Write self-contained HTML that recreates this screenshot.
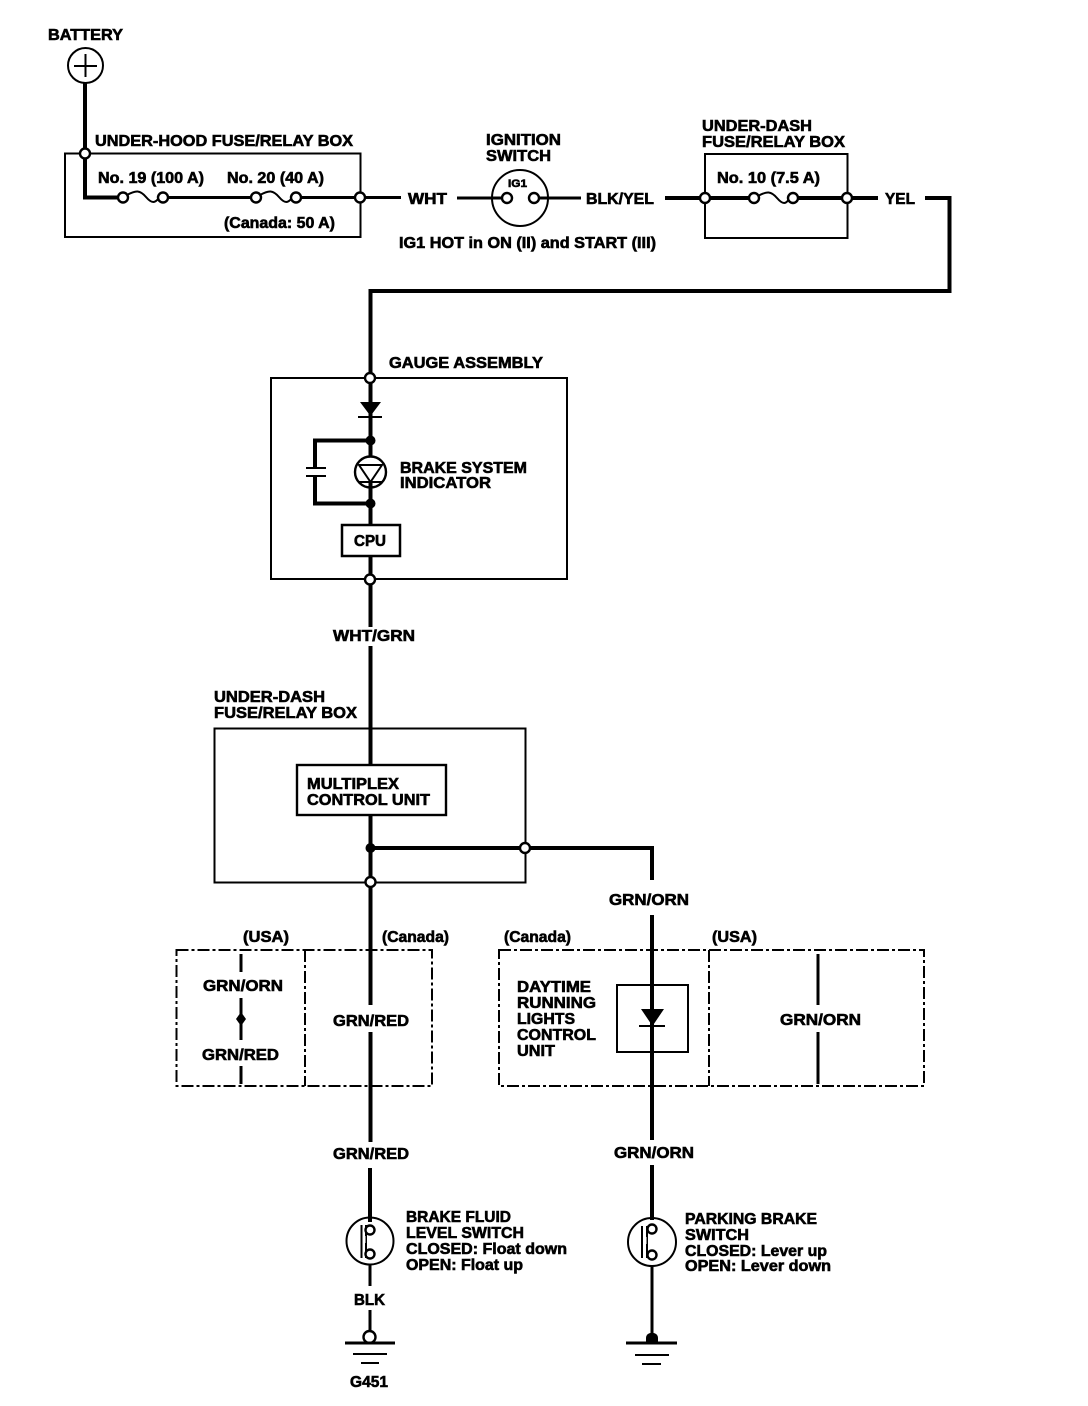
<!DOCTYPE html>
<html><head><meta charset="utf-8"><style>
html,body{margin:0;padding:0;background:#fff}
svg{display:block}
text{font-family:"Liberation Sans",sans-serif;font-weight:bold;font-size:15.5px;fill:#000;stroke:#000;stroke-width:.6px}
.b{fill:none;stroke:#000;stroke-width:2}
.w{fill:none;stroke:#000;stroke-width:4}
.t{fill:none;stroke:#000;stroke-width:3}
.d{fill:none;stroke:#000;stroke-width:2;stroke-dasharray:12 3 3 3}
.n{fill:#fff;stroke:#000;stroke-width:2.400}
.f{fill:#000;stroke:none}
</style></head><body>
<svg width="1088" height="1406" viewBox="0 0 1088 1406" xmlns="http://www.w3.org/2000/svg">
<!-- boxes -->
<rect class="b" x="65" y="153.500" width="295.500" height="83.500"/>
<rect class="b" x="705" y="154" width="142.500" height="84"/>
<rect class="b" x="271" y="378" width="296" height="201"/>
<rect class="b" x="214.500" y="728.500" width="311" height="154"/>
<rect class="d" x="176.500" y="950" width="255.500" height="136"/>
<line class="d" x1="305" y1="950" x2="305" y2="1086"/>
<rect class="d" x="499" y="950" width="425" height="136"/>
<line class="d" x1="709" y1="950" x2="709" y2="1086"/>

<!-- battery -->
<circle class="b" cx="85.500" cy="65.500" r="17.500"/>
<path class="b" d="M74 66H97M85.500 54V77"/>
<path class="w" d="M85 83V197.500H123"/>

<!-- top wire -->
<path class="t" d="M163 197.500H256M296 197.500H401"/>
<path class="t" d="M457 198H505"/>
<path class="t" d="M534 198H581"/>
<path class="w" d="M665 198H754M793 198H878"/>
<path class="w" d="M925 198H949.500V291H370.500V378"/>

<!-- fuses -->
<path class="b" d="M127 195C136 190 140 190 146 197S155 203 159 198"/>
<path class="b" d="M260 195C269 190 273 190 279 197S288 203 292 198"/>
<path class="b" d="M758 196C767 191 771 191 777 198S786 204 789 199"/>
<circle class="n" cx="123" cy="197.500" r="5"/><circle class="n" cx="163" cy="197.500" r="5"/>
<circle class="n" cx="256" cy="197.500" r="5"/><circle class="n" cx="296" cy="197.500" r="5"/>
<circle class="n" cx="754" cy="198" r="5"/><circle class="n" cx="793" cy="198" r="5"/>
<circle class="n" cx="85" cy="153.500" r="5"/><circle class="n" cx="360" cy="197.500" r="5"/>
<circle class="n" cx="705" cy="198" r="5"/><circle class="n" cx="847" cy="198" r="5"/>

<!-- ignition -->
<circle class="b" cx="520" cy="198" r="28"/>
<circle class="n" cx="507" cy="198" r="5"/><circle class="n" cx="534" cy="198" r="5"/>

<!-- gauge -->
<path class="w" d="M370.500 378V525M370.500 556V627M370.500 646V765M370.500 815V1005M370.500 1032V1142M370 1168V1222"/>
<path class="f" d="M360 402H381L370.500 416Z"/>
<line class="b" x1="358" y1="417" x2="382" y2="417"/>
<path class="w" d="M370 440.500H315V468M315 476V503.500H370"/>
<path class="b" d="M306 468H326M306 476H326"/>
<circle class="f" cx="370.500" cy="440.500" r="5"/><circle class="f" cx="370.500" cy="503.500" r="5"/>
<circle class="n" cx="370.500" cy="472" r="15.500"/>
<path class="b" d="M359 465H382L370.500 482ZM358 482H383"/>
<line class="w" x1="370.500" y1="482" x2="370.500" y2="500"/>
<rect class="n" style="stroke-width:2.500" x="342" y="525" width="58" height="31"/>
<circle class="n" cx="370" cy="378" r="5"/><circle class="n" cx="370" cy="579.500" r="5"/>

<!-- multiplex -->
<rect class="n" x="297" y="765" width="149" height="50"/>
<path class="w" d="M370 848H652V880M652 915V1140M652 1165V1220"/>
<circle class="f" cx="370.500" cy="848" r="5"/>
<circle class="n" cx="525" cy="848" r="5"/><circle class="n" cx="370.500" cy="882" r="5"/>

<!-- left dashed contents -->
<path class="t" d="M241 954V972M241 998V1040M241 1066V1084"/>
<path class="f" d="M241 1012L246 1019L241 1026L236 1019Z"/>

<!-- right dashed contents -->
<rect class="b" x="617" y="985" width="71" height="67"/>
<path class="f" d="M641 1009H664L652.500 1026Z"/>
<path class="b" d="M639 1026H665"/>
<path class="t" d="M818 954V1005M818 1032V1084"/>

<!-- switch 1 -->
<circle class="b" cx="370" cy="1241" r="23.500"/>
<path class="b" d="M361.500 1225V1258M366 1225V1258"/>
<line class="w" style="stroke:#fff;stroke-width:3" x1="364" y1="1236" x2="364" y2="1243"/>
<circle class="n" cx="370" cy="1230" r="4.500"/><circle class="n" cx="370" cy="1254" r="4.500"/>
<path class="t" d="M370 1264V1286M370 1310V1332"/>
<circle class="n" cx="369.500" cy="1337" r="6"/>
<path class="t" d="M345 1343H395"/>
<path class="b" d="M353 1354H387M361 1363H379"/>

<!-- switch 2 -->
<circle class="b" cx="652" cy="1242" r="24"/>
<path class="b" d="M642 1226V1258M647 1226V1258"/>
<line class="w" style="stroke:#fff;stroke-width:3" x1="645" y1="1237" x2="645" y2="1244"/>
<circle class="n" cx="652" cy="1229" r="4.500"/><circle class="n" cx="652" cy="1255" r="4.500"/>
<path class="t" d="M652 1266V1335"/>
<path class="f" d="M646 1343V1338C646 1331 658 1331 658 1338V1343Z"/>
<path class="t" d="M626 1343H677"/>
<path class="b" d="M635 1355H669M642 1364H661"/>

<!-- labels -->
<text x="48" y="40" textLength="75" lengthAdjust="spacingAndGlyphs">BATTERY</text>
<text x="95" y="146" textLength="258" lengthAdjust="spacingAndGlyphs">UNDER-HOOD FUSE/RELAY BOX</text>
<text x="98" y="183" textLength="106" lengthAdjust="spacingAndGlyphs">No. 19 (100 A)</text>
<text x="227" y="183" textLength="97" lengthAdjust="spacingAndGlyphs">No. 20 (40 A)</text>
<text x="224" y="228" textLength="111" lengthAdjust="spacingAndGlyphs">(Canada: 50 A)</text>
<text x="408" y="204" textLength="39" lengthAdjust="spacingAndGlyphs">WHT</text>
<text x="486" y="145" textLength="75" lengthAdjust="spacingAndGlyphs">IGNITION</text>
<text x="486" y="161" textLength="65" lengthAdjust="spacingAndGlyphs">SWITCH</text>
<text x="508" y="187" textLength="19" lengthAdjust="spacingAndGlyphs" style="font-size:11px">IG1</text>
<text x="586" y="204" textLength="68" lengthAdjust="spacingAndGlyphs">BLK/YEL</text>
<text x="399" y="248" textLength="257" lengthAdjust="spacingAndGlyphs">IG1 HOT in ON (II) and START (III)</text>
<text x="702" y="131" textLength="110" lengthAdjust="spacingAndGlyphs">UNDER-DASH</text>
<text x="702" y="147" textLength="143" lengthAdjust="spacingAndGlyphs">FUSE/RELAY BOX</text>
<text x="717" y="183" textLength="103" lengthAdjust="spacingAndGlyphs">No. 10 (7.5 A)</text>
<text x="885" y="204" textLength="30" lengthAdjust="spacingAndGlyphs">YEL</text>
<text x="389" y="368" textLength="154" lengthAdjust="spacingAndGlyphs">GAUGE ASSEMBLY</text>
<text x="400" y="473" textLength="127" lengthAdjust="spacingAndGlyphs">BRAKE SYSTEM</text>
<text x="400" y="488" textLength="91" lengthAdjust="spacingAndGlyphs">INDICATOR</text>
<text x="354" y="546" textLength="32" lengthAdjust="spacingAndGlyphs">CPU</text>
<text x="333" y="641" textLength="82" lengthAdjust="spacingAndGlyphs">WHT/GRN</text>
<text x="214" y="702" textLength="111" lengthAdjust="spacingAndGlyphs">UNDER-DASH</text>
<text x="214" y="718" textLength="143" lengthAdjust="spacingAndGlyphs">FUSE/RELAY BOX</text>
<text x="307" y="789" textLength="92" lengthAdjust="spacingAndGlyphs">MULTIPLEX</text>
<text x="307" y="805" textLength="123" lengthAdjust="spacingAndGlyphs">CONTROL UNIT</text>
<text x="609" y="905" textLength="80" lengthAdjust="spacingAndGlyphs">GRN/ORN</text>
<text x="243" y="942" textLength="46" lengthAdjust="spacingAndGlyphs">(USA)</text>
<text x="382" y="942" textLength="67" lengthAdjust="spacingAndGlyphs">(Canada)</text>
<text x="203" y="991" textLength="80" lengthAdjust="spacingAndGlyphs">GRN/ORN</text>
<text x="202" y="1060" textLength="77" lengthAdjust="spacingAndGlyphs">GRN/RED</text>
<text x="333" y="1026" textLength="76" lengthAdjust="spacingAndGlyphs">GRN/RED</text>
<text x="504" y="942" textLength="67" lengthAdjust="spacingAndGlyphs">(Canada)</text>
<text x="712" y="942" textLength="45" lengthAdjust="spacingAndGlyphs">(USA)</text>
<text x="517" y="992" textLength="74" lengthAdjust="spacingAndGlyphs">DAYTIME</text>
<text x="517" y="1008" textLength="79" lengthAdjust="spacingAndGlyphs">RUNNING</text>
<text x="517" y="1024" textLength="58" lengthAdjust="spacingAndGlyphs">LIGHTS</text>
<text x="517" y="1040" textLength="79" lengthAdjust="spacingAndGlyphs">CONTROL</text>
<text x="517" y="1056" textLength="38" lengthAdjust="spacingAndGlyphs">UNIT</text>
<text x="780" y="1025" textLength="81" lengthAdjust="spacingAndGlyphs">GRN/ORN</text>
<text x="333" y="1159" textLength="76" lengthAdjust="spacingAndGlyphs">GRN/RED</text>
<text x="614" y="1158" textLength="80" lengthAdjust="spacingAndGlyphs">GRN/ORN</text>
<text x="406" y="1222" textLength="105" lengthAdjust="spacingAndGlyphs">BRAKE FLUID</text>
<text x="406" y="1238" textLength="118" lengthAdjust="spacingAndGlyphs">LEVEL SWITCH</text>
<text x="406" y="1254" textLength="161" lengthAdjust="spacingAndGlyphs">CLOSED: Float down</text>
<text x="406" y="1270" textLength="117" lengthAdjust="spacingAndGlyphs">OPEN: Float up</text>
<text x="354" y="1305" textLength="31" lengthAdjust="spacingAndGlyphs">BLK</text>
<text x="350" y="1387" textLength="38" lengthAdjust="spacingAndGlyphs">G451</text>
<text x="685" y="1224" textLength="132" lengthAdjust="spacingAndGlyphs">PARKING BRAKE</text>
<text x="685" y="1240" textLength="64" lengthAdjust="spacingAndGlyphs">SWITCH</text>
<text x="685" y="1256" textLength="142" lengthAdjust="spacingAndGlyphs">CLOSED: Lever up</text>
<text x="685" y="1271" textLength="146" lengthAdjust="spacingAndGlyphs">OPEN: Lever down</text>
</svg>
</body></html>
